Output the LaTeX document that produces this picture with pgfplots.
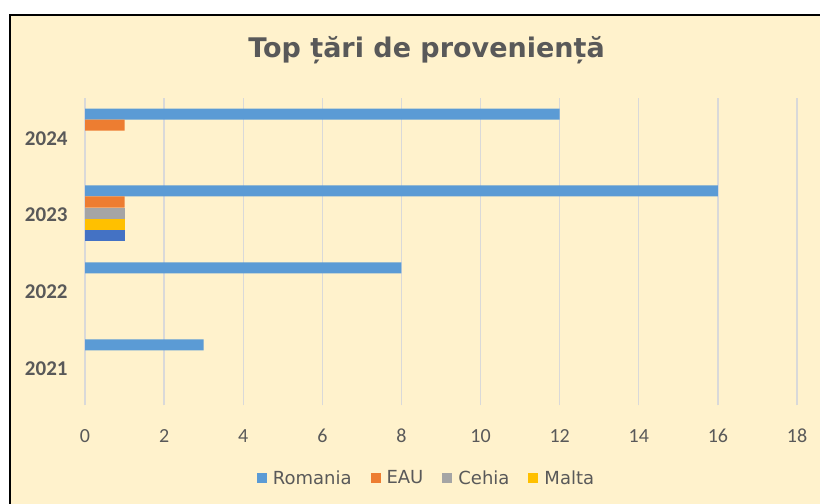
\documentclass[border=0pt]{standalone}
\usepackage{pgfplots}
\pgfplotsset{compat=1.18}
\usepackage{fontspec}
\setmainfont{Carlito}
\newfontfamily\dejavu{DejaVu Sans}
\definecolor{bgc}{HTML}{FFF2CC}
\definecolor{txt}{HTML}{595959}
\definecolor{gridc}{HTML}{D9D9D9}
\definecolor{cRo}{HTML}{5B9BD5}
\definecolor{cEa}{HTML}{ED7D31}
\definecolor{cCe}{HTML}{A5A5A5}
\definecolor{cMa}{HTML}{FFC000}
\definecolor{cFi}{HTML}{4472C4}
\begin{document}
\begin{tikzpicture}
\useasboundingbox (0,0) rectangle (820bp,504bp);
\fill[white] (0,0) rectangle (820bp,504bp);
\fill[bgc] (10bp,0) rectangle (820bp,489bp);
\draw[black,line width=2.5bp] (10bp,0) -- (10bp,489bp) -- (820bp,489bp);
\node[anchor=base,text=txt,inner sep=0pt,font=\dejavu\fontsize{27bp}{32bp}\selectfont\bfseries] at (426.5bp,446bp) {Top țări de proveniență};
\begin{axis}[
  at={(85bp,98.5bp)}, anchor=south west,
  scale only axis, width=712bp, height=308bp,
  xmin=0, xmax=18, ymin=-0.5, ymax=3.5,
  xbar, bar width=11bp,
  axis line style={draw=none},
  xmajorgrids, grid style={gridc, line width=1.3bp},
  xtick={0,2,...,18}, ytick={0,1,2,3}, yticklabels={2021,2022,2023,2024},
  major tick style={draw=none},
  /pgf/number format/assume math mode=true,
  xticklabel style={anchor=base, inner sep=0pt, yshift=-37.5bp, text=txt, font=\fontsize{20bp}{24bp}\selectfont},
  yticklabel style={anchor=base east, inner sep=0pt, xshift=-13bp, yshift=-9bp, text=txt, font=\fontsize{21bp}{24bp}\selectfont\bfseries},
  legend columns=4,
  legend style={draw=none, fill=none, at={(0.4782,-0.2354)}, anchor=center,
    font=\dejavu\fontsize{18bp}{22bp}\selectfont, text=txt,
    nodes={inner sep=0bp},
    /tikz/every odd column/.append style={column sep=6bp},
    /tikz/every even column/.append style={column sep=19bp},
    legend cell align=left},
  legend image code/.code={\fill[#1] (0bp,-5bp) rectangle (10bp,5bp);},
]
\addplot[fill=cRo, draw=none, bar shift=22bp] coordinates {(3,0) (8,1) (16,2) (12,3)};
\addlegendentry{Romania}
\addplot[fill=cEa, draw=none, bar shift=11bp] coordinates {(1,2) (1,3)};
\addlegendentry{EAU}
\addplot[fill=cCe, draw=none, bar shift=0bp] coordinates {(1,2)};
\addlegendentry{Cehia}
\addplot[fill=cMa, draw=none, bar shift=-11bp] coordinates {(1,2)};
\addlegendentry{Malta}
\addplot[fill=cFi, draw=none, bar shift=-22bp, forget plot] coordinates {(1,2)};
\end{axis}
\end{tikzpicture}
\end{document}
